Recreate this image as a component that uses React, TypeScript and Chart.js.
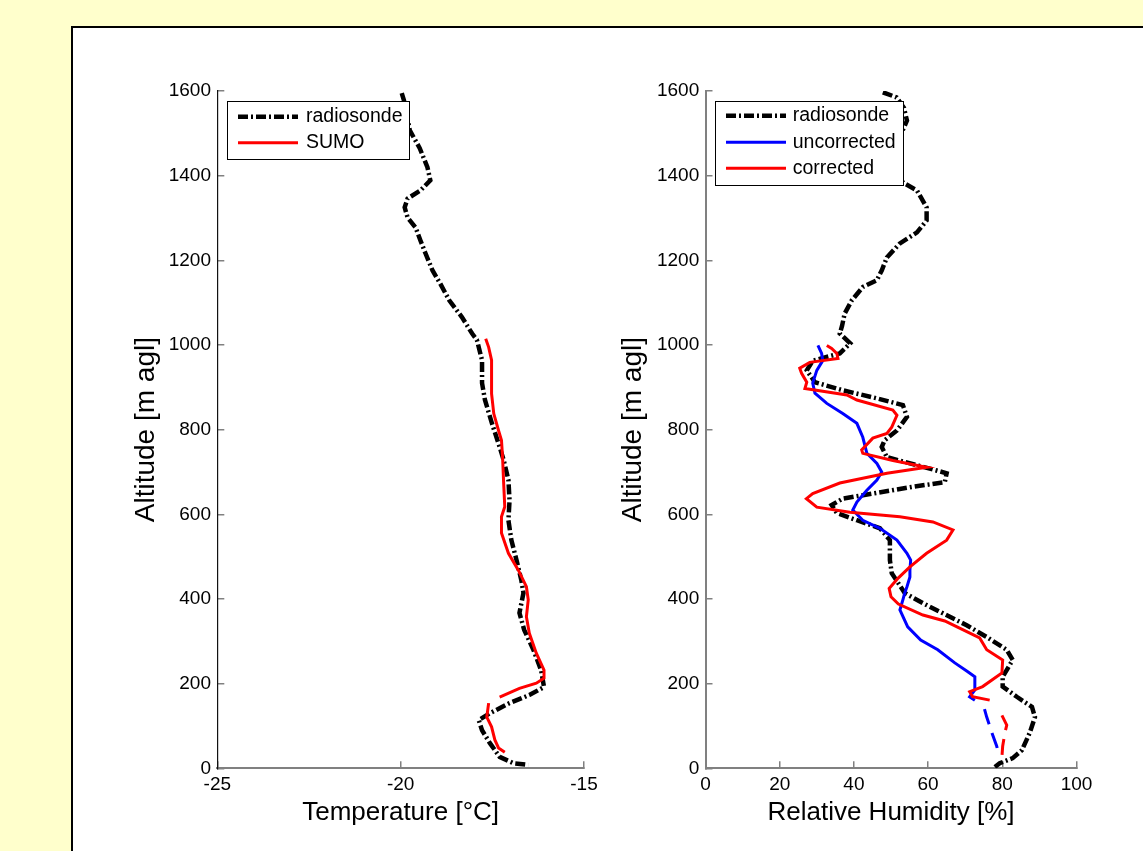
import React, { useEffect, useRef } from "react";
import { Chart, registerables } from "chart.js";

Chart.register(...registerables);

const FONT = "'Liberation Sans', Arial, Helvetica, sans-serif";

// ---------- Left panel: temperature ----------
const tempSondeAlt = [1595, 1578, 1507, 1465, 1420, 1389, 1365, 1346, 1325, 1301, 1277, 1247, 1216, 1176, 1145, 1105, 1066, 1027, 1012, 964, 910, 870, 815, 759, 728, 681, 633, 586, 539, 492, 445, 414, 367, 327, 280, 232, 192, 173, 154, 130, 114, 90, 60, 27, 12, 8];
const tempSondeVal = [-19.97, -19.91, -19.75, -19.48, -19.27, -19.19, -19.46, -19.81, -19.89, -19.81, -19.59, -19.46, -19.32, -19.13, -18.92, -18.67, -18.33, -18.05, -17.92, -17.78, -17.78, -17.7, -17.51, -17.3, -17.19, -17.06, -17.03, -17.06, -16.98, -16.84, -16.71, -16.65, -16.76, -16.63, -16.38, -16.17, -16.09, -16.49, -17.03, -17.57, -17.87, -17.78, -17.57, -17.3, -16.92, -16.52];

const sumoUpperAlt = [1015, 995, 964, 885, 838, 798, 775, 735, 673, 618, 594, 556, 508, 468, 429, 398, 358, 319, 272, 232, 213, 201, 189, 168];
const sumoUpperVal = [-17.68, -17.6, -17.52, -17.52, -17.46, -17.33, -17.25, -17.22, -17.19, -17.16, -17.25, -17.25, -17.06, -16.79, -16.57, -16.52, -16.57, -16.49, -16.3, -16.09, -16.09, -16.3, -16.76, -17.3];
const sumoLowerAlt = [154, 121, 98, 67, 48, 38];
const sumoLowerVal = [-17.6, -17.65, -17.52, -17.43, -17.33, -17.16];

// ---------- Right panel: relative humidity ----------
const rhSondeAlt = [1597, 1585, 1560, 1530, 1500, 1450, 1400, 1384, 1365, 1325, 1294, 1266, 1240, 1207, 1176, 1153, 1137, 1105, 1074, 1045, 1027, 1004, 980, 963, 940, 912, 893, 874, 858, 830, 798, 775, 759, 735, 716, 697, 676, 665, 649, 637, 622, 603, 586, 567, 539, 492, 461, 414, 390, 366, 338, 310, 280, 256, 216, 193, 169, 145, 121, 84, 43, 24, 12, 3];
const rhSondeVal = [47.8, 51.5, 53.5, 54.3, 52.8, 52.0, 52.5, 53.2, 57.0, 59.6, 59.6, 57.0, 52.4, 48.9, 47.5, 46.2, 42.4, 39.4, 37.5, 36.8, 36.2, 39.0, 36.2, 28.9, 27.3, 29.5, 37.0, 46.2, 53.2, 54.3, 51.6, 48.3, 47.5, 48.9, 57.0, 65.0, 64.5, 55.9, 45.1, 37.0, 34.0, 35.4, 40.8, 47.0, 49.7, 49.7, 50.2, 53.7, 58.6, 64.0, 70.4, 75.8, 81.2, 82.8, 80.1, 80.1, 83.9, 88.0, 88.8, 87.4, 85.3, 82.8, 79.3, 78.0];

const uncorrAlt = [999, 980, 963, 940, 910, 886, 862, 838, 815, 782, 744, 720, 700, 681, 657, 629, 610, 586, 567, 539, 508, 492, 468, 452, 429, 414, 398, 374, 334, 303, 280, 249, 228, 216, 185, 169, 161];
const uncorrVal = [30.3, 31.3, 31.6, 30.0, 28.9, 29.5, 32.7, 37.0, 40.8, 42.4, 43.5, 46.2, 47.5, 46.2, 43.5, 40.8, 39.7, 42.4, 47.0, 51.6, 54.3, 55.3, 55.1, 55.1, 54.3, 53.7, 53.2, 52.4, 54.5, 58.0, 62.6, 67.2, 70.7, 72.6, 72.6, 71.2, 72.6];
const uncorrLowAlt = [140, 121, 84, 52, 31];
const uncorrLowVal = [75.2, 75.8, 77.2, 78.5, 79.1];

const corrAlt = [999, 992, 980, 968, 959, 945, 933, 912, 897, 882, 870, 846, 834, 806, 791, 780, 752, 744, 727, 711, 697, 674, 649, 637, 617, 605, 594, 582, 563, 539, 508, 476, 450, 425, 405, 388, 362, 348, 334, 308, 280, 256, 225, 193, 181, 169, 161];
const corrVal = [32.7, 34.0, 35.4, 35.7, 28.1, 25.4, 25.9, 27.3, 26.8, 38.1, 40.8, 50.5, 51.6, 50.2, 48.9, 45.1, 42.1, 42.4, 50.5, 59.6, 48.9, 36.2, 28.9, 27.2, 30.0, 38.9, 52.4, 61.3, 66.7, 65.0, 59.6, 55.1, 52.0, 49.5, 50.0, 52.0, 58.6, 64.5, 67.8, 73.9, 75.8, 80.1, 79.9, 74.7, 71.2, 72.0, 76.6];
const corrLowAlt = [125, 102, 84, 52, 27];
const corrLowVal = [79.9, 81.2, 80.7, 80.1, 79.9];

const altTicks = [0, 200, 400, 600, 800, 1000, 1200, 1400, 1600];
const tempTicks = [-25, -20, -15];
const rhTicks = [0, 20, 40, 60, 80, 100];

const SONDE_DASH = [10, 3, 2, 3];

function pts(vals: number[], alts: number[]) {
  return vals.map((v, i) => ({ x: v, y: alts[i] }));
}

type LegendItem = { label: string; color: string; dash: number[]; width: number };
type LegendGeom = { x: number; y: number; w: number; h: number; lx1: number; lx2: number; tx: number; rows: number[] };

function legendPlugin(items: LegendItem[], g: LegendGeom) {
  return {
    id: "boxLegend",
    afterDraw(chart: any) {
      const ctx = chart.ctx;
      const a = chart.chartArea;
      ctx.save();
      const x0 = Math.round(a.left + g.x) + 0.5;
      const y0 = Math.round(a.top + g.y) + 0.5;
      ctx.fillStyle = "#ffffff";
      ctx.fillRect(x0, y0, g.w, g.h);
      ctx.strokeStyle = "#000000";
      ctx.lineWidth = 1;
      ctx.strokeRect(x0, y0, g.w, g.h);
      items.forEach((it, i) => {
        const y = a.top + g.rows[i];
        ctx.beginPath();
        ctx.setLineDash(it.dash);
        ctx.lineWidth = it.width;
        ctx.strokeStyle = it.color;
        ctx.lineCap = "butt";
        ctx.moveTo(a.left + g.lx1, y);
        ctx.lineTo(a.left + g.lx2, y);
        ctx.stroke();
        ctx.setLineDash([]);
        ctx.fillStyle = "#000000";
        ctx.font = `19.5px ${FONT}`;
        ctx.textBaseline = "middle";
        ctx.textAlign = "left";
        ctx.fillText(it.label, a.left + g.tx, y);
      });
      ctx.restore();
    },
  };
}

type PanelProps = {
  left: number;
  top: number;
  width: number;
  height: number;
  areaLeft: number;
  areaTop: number;
  areaRight: number;
  areaBottom: number;
  datasets: any[];
  xMin: number;
  xMax: number;
  xTicks: number[];
  xTitle: string;
  yTitleCenterX: number;
  yBorderColor: string;
  yBorderWidth: number;
  legendItems: LegendItem[];
  legendGeom: LegendGeom;
};

function Panel(p: PanelProps) {
  const ref = useRef<HTMLCanvasElement | null>(null);
  useEffect(() => {
    if (!ref.current) return;
    const cl = p.areaLeft - p.left;
    const ct = p.areaTop - p.top;
    const cr = p.areaRight - p.left;
    const cb = p.areaBottom - p.top;
    const yTitleSize = 28;
    const xTitleSize = 26;
    const chart = new Chart(ref.current, {
      type: "scatter",
      data: { datasets: p.datasets },
      options: {
        animation: false,
        responsive: false,
        maintainAspectRatio: false,
        devicePixelRatio: 1,
        layout: { padding: { left: 0, top: ct, right: p.width - cr, bottom: 0 } },
        plugins: { legend: { display: false }, tooltip: { enabled: false } },
        elements: { point: { radius: 0 } },
        scales: {
          x: {
            type: "linear",
            position: "bottom",
            min: p.xMin,
            max: p.xMax,
            afterBuildTicks: (s: any) => {
              s.ticks = p.xTicks.map((v) => ({ value: v }));
            },
            ticks: {
              color: "#000",
              font: { family: FONT, size: 19 },
              padding: 12.3,
              autoSkip: false,
              maxRotation: 0,
              callback: (v: any) => String(v),
            },
            grid: { drawOnChartArea: false, drawTicks: true, tickLength: -7, color: "#808080", lineWidth: 1.5 },
            border: { display: true, color: "#808080", width: 2 },
            title: {
              display: true,
              text: p.xTitle,
              color: "#000",
              font: { family: FONT, size: xTitleSize },
              padding: { top: 0, bottom: 22.4 },
            },
            afterFit: (s: any) => {
              s.height = p.height - cb;
            },
          },
          y: {
            type: "linear",
            position: "left",
            min: 0,
            max: 1600,
            afterBuildTicks: (s: any) => {
              s.ticks = altTicks.map((v) => ({ value: v }));
            },
            ticks: {
              color: "#000",
              font: { family: FONT, size: 19 },
              padding: 13.3,
              autoSkip: false,
              callback: (v: any) => String(v),
            },
            grid: { drawOnChartArea: false, drawTicks: true, tickLength: -7, color: "#808080", lineWidth: 1.5 },
            border: { display: true, color: p.yBorderColor, width: p.yBorderWidth },
            title: {
              display: true,
              text: "Altitude [m agl]",
              color: "#000",
              font: { family: FONT, size: yTitleSize },
              padding: { top: p.yTitleCenterX - p.left - (yTitleSize * 1.2) / 2, bottom: 0 },
            },
            afterFit: (s: any) => {
              s.width = cl;
            },
          },
        },
      },
      plugins: [legendPlugin(p.legendItems, p.legendGeom)],
    } as any);
    return () => chart.destroy();
  }, []);
  return (
    <canvas
      ref={ref}
      width={p.width}
      height={p.height}
      style={{ position: "absolute", left: p.left, top: p.top, width: p.width, height: p.height }}
    />
  );
}

const sondeStyle = {
  borderColor: "#000000",
  borderWidth: 4.5,
  borderDash: SONDE_DASH,
  showLine: true,
  pointRadius: 0,
  fill: false,
};

export default function App() {
  const leftDatasets = [
    { label: "SUMO", data: pts(sumoUpperVal, sumoUpperAlt), borderColor: "#ff0000", borderWidth: 3, showLine: true, pointRadius: 0, order: 0 },
    { label: "SUMO low", data: pts(sumoLowerVal, sumoLowerAlt), borderColor: "#ff0000", borderWidth: 3, showLine: true, pointRadius: 0, order: 0 },
    { label: "radiosonde", data: pts(tempSondeVal, tempSondeAlt), ...sondeStyle, order: 2 },
  ];
  const rightDatasets = [
    { label: "corrected", data: pts(corrVal, corrAlt), borderColor: "#ff0000", borderWidth: 3, showLine: true, pointRadius: 0, order: 0 },
    { label: "corrected low", data: pts(corrLowVal, corrLowAlt), borderColor: "#ff0000", borderWidth: 3, borderDash: [16, 9], showLine: true, pointRadius: 0, order: 0 },
    { label: "uncorrected", data: pts(uncorrVal, uncorrAlt), borderColor: "#0000ff", borderWidth: 3, showLine: true, pointRadius: 0, order: 1 },
    { label: "uncorrected low", data: pts(uncorrLowVal, uncorrLowAlt), borderColor: "#0000ff", borderWidth: 3, borderDash: [16, 9], showLine: true, pointRadius: 0, order: 1 },
    { label: "radiosonde", data: pts(rhSondeVal, rhSondeAlt), ...sondeStyle, order: 2 },
  ];

  return (
    <div
      style={{
        position: "fixed",
        left: 0,
        top: 0,
        width: 1143,
        height: 851,
        overflow: "hidden",
        background: "#FFFFCC",
      }}
    >
      <div
        style={{
          position: "absolute",
          left: 71,
          top: 26,
          width: 1200,
          height: 900,
          background: "#ffffff",
          border: "2px solid #000000",
        }}
      />
      <Panel
        left={110}
        top={40}
        width={500}
        height={811}
        areaLeft={217.3}
        areaTop={91}
        areaRight={588.3}
        areaBottom={768.3}
        datasets={leftDatasets}
        xMin={-25}
        xMax={-15}
        xTicks={tempTicks}
        xTitle="Temperature [°C]"
        yTitleCenterX={145.8}
        yBorderColor="#111111"
        yBorderWidth={1.2}
        legendItems={[
          { label: "radiosonde", color: "#000", dash: SONDE_DASH, width: 4.5 },
          { label: "SUMO", color: "#ff0000", dash: [], width: 3 },
        ]}
        legendGeom={{ x: 9.7, y: 10, w: 182, h: 58, lx1: 20.7, lx2: 80.7, tx: 88.7, rows: [25.7, 51.7] }}
      />
      <Panel
        left={600}
        top={40}
        width={543}
        height={811}
        areaLeft={705.5}
        areaTop={91}
        areaRight={1076.5}
        areaBottom={768.3}
        datasets={rightDatasets}
        xMin={0}
        xMax={100}
        xTicks={rhTicks}
        xTitle="Relative Humidity [%]"
        yTitleCenterX={633}
        yBorderColor="#808080"
        yBorderWidth={2}
        legendItems={[
          { label: "radiosonde", color: "#000", dash: SONDE_DASH, width: 4.5 },
          { label: "uncorrected", color: "#0000ff", dash: [], width: 3 },
          { label: "corrected", color: "#ff0000", dash: [], width: 3 },
        ]}
        legendGeom={{ x: 9.5, y: 10, w: 188, h: 84, lx1: 20.5, lx2: 80.5, tx: 87.2, rows: [24.7, 51.3, 77.3] }}
      />
    </div>
  );
}
